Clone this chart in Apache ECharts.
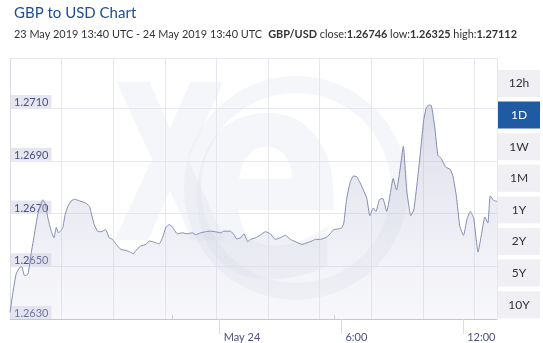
<!DOCTYPE html>
<html><head><meta charset="utf-8">
<script src="https://cdn.jsdelivr.net/npm/echarts@6/dist/echarts.min.js"></script>
<style>html,body{margin:0;padding:0;background:#fff}#c{width:543px;height:343px}</style>
</head><body><div id="c"></div>
<script>
const titleText = 'GBP to USD Chart';
const rangeText = '23 May 2019 13:40 UTC - 24 May 2019 13:40 UTC';
const pairName = 'GBP/USD';
const closeVal = '1.26746';
const lowVal = '1.26325';
const highVal = '1.27112';

// minutes since 23 May 2019 13:40 UTC
const minutesFromStart = [0,8,18,28,35,43,53,63,72,82,90,97,104,112,122,130,137,143,149,156,163,171,181,191,206,225,235,239,249,259,269,283,293,303,318,328,343,353,365,375,387,402,412,422,431,441,451,461,471,481,485,495,509,524,539,549,564,578,593,608,623,632,652,662,670,682,692,703,711,726,740,755,770,784,799,814,829,844,863,878,893,903,918,937,949,957,972,981,987,995,1005,1015,1025,1035,1045,1055,1064,1074,1082,1092,1102,1114,1123,1133,1143,1153,1163,1173,1185,1194,1207,1217,1223,1231,1239,1246,1256,1265,1275,1288,1302,1310,1320,1330,1341,1351,1361,1371,1384,1394,1404,1413,1420,1430,1440];
const rates = [1.26325,1.26395,1.26470,1.26495,1.26498,1.26464,1.26470,1.26552,1.26620,1.26696,1.26733,1.26752,1.26739,1.26683,1.26633,1.26608,1.26648,1.26627,1.26633,1.26646,1.26696,1.26727,1.26748,1.26754,1.26748,1.26739,1.26727,1.26708,1.26658,1.26633,1.26631,1.26639,1.26608,1.26602,1.26577,1.26564,1.26560,1.26555,1.26548,1.26564,1.26577,1.26583,1.26596,1.26593,1.26589,1.26585,1.26608,1.26648,1.26658,1.26648,1.26639,1.26623,1.26627,1.26623,1.26627,1.26620,1.26627,1.26631,1.26633,1.26631,1.26627,1.26633,1.26633,1.26620,1.26604,1.26608,1.26623,1.26593,1.26602,1.26608,1.26618,1.26631,1.26623,1.26602,1.26608,1.26618,1.26602,1.26593,1.26583,1.26589,1.26596,1.26602,1.26602,1.26611,1.26627,1.26639,1.26642,1.26646,1.26664,1.26752,1.26815,1.26842,1.26840,1.26817,1.26789,1.26758,1.26692,1.26721,1.26708,1.26752,1.26758,1.26708,1.26765,1.26833,1.26789,1.26865,1.26955,1.26789,1.26692,1.26714,1.26852,1.26977,1.27052,1.27103,1.27112,1.27109,1.27028,1.26921,1.26909,1.26877,1.26867,1.26840,1.26765,1.26652,1.26617,1.26677,1.26708,1.26683,1.26554,1.26620,1.26687,1.26664,1.26767,1.26750,1.26746];

const xTickMinutes = [620, 980, 1340];
const xTickLabels = ['May 24', '6:00', '12:00'];
const yMin = 1.2630, yMax = 1.2729, yStep = 0.0020;
const buttonLabels = ['12h', '1D', '1W', '1M', '1Y', '2Y', '5Y', '10Y'];
const selectedButton = '1D';

const FONT = 'Lato';
const n = Math.min(minutesFromStart.length, rates.length);
const seriesData = [];
for (let i = 0; i < n; i++) seriesData.push([minutesFromStart[i], rates[i]]);

const chart = echarts.init(document.getElementById('c'), null, {renderer: 'canvas'});

const buttons = [];
buttonLabels.forEach((lab, i) => {
  const sel = lab === selectedButton;
  buttons.push({
    type: 'group', left: 498, top: 70 + i * 31.6, z: 10,
    children: [
      {type: 'rect', shape: {x: 0, y: 0, width: 42, height: 27}, style: {fill: sel ? '#1f5ba3' : '#efeff4'}},
      {type: 'text', x: 21, y: 13.5, style: {text: lab, fill: sel ? '#ffffff' : '#333333', font: '12px ' + FONT, align: 'center', verticalAlign: 'middle'}}
    ]
  });
});

const wmColor = 'rgba(215,217,232,0.24)';
const watermark = {
  type: 'group', z: -10, silent: true,
  children: [
    {type: 'ring', shape: {cx: 296, cy: 188, r: 112, r0: 95}, style: {fill: wmColor}, z: -10},
    {type: 'text', x: 170, y: 165, scaleX: 0.62, scaleY: 1, style: {text: 'x', font: 'bold 290px "DejaVu Sans"', fill: wmColor, align: 'center', verticalAlign: 'middle'}, z: -10},
    {type: 'text', x: 266, y: 200, scaleX: 0.8, scaleY: 1, style: {text: 'e', font: 'bold 290px "DejaVu Sans"', fill: wmColor, align: 'center', verticalAlign: 'middle'}, z: -10}
  ]
};

const option = {
  backgroundColor: '#ffffff',
  animation: false,
  title: [
    {text: titleText, left: 9, top: 1, textStyle: {fontFamily: FONT, fontSize: 15, fontWeight: 'normal', color: '#1e4b96'}},
    {
      text: '{n|' + rangeText + '}  {b|' + pairName + '}{n| close:}{b|' + closeVal + '}{n| low:}{b|' + lowVal + '}{n| high:}{b|' + highVal + '}',
      left: 9, top: 24,
      textStyle: {fontWeight: 'normal', fontSize: 10.9, rich: {
        n: {fontFamily: FONT, fontSize: 10.9, fontWeight: 'normal', color: '#333333'},
        b: {fontFamily: FONT, fontSize: 10.9, fontWeight: 'bold', color: '#333333'}
      }}
    }
  ],
  grid: {left: 10, right: 46, top: 58, bottom: 21, containLabel: false},
  xAxis: [
    {
      type: 'value', min: 0, max: 1440, position: 'bottom',
      axisLine: {show: true, lineStyle: {color: '#c4c6dc', width: 1}},
      axisTick: {show: true, customValues: xTickMinutes, inside: false, length: 15, lineStyle: {color: '#dcdce6'}},
      axisLabel: {show: true, customValues: xTickMinutes, align: 'left', margin: 13, padding: [0, 0, 0, 4],
        color: '#4a4f80', fontFamily: FONT, fontSize: 11,
        formatter: v => { const k = xTickMinutes.indexOf(v); return k >= 0 ? xTickLabels[k] : ''; }},
      splitLine: {show: false}
    },
    {
      type: 'value', min: 0, max: 9.436, interval: 1, position: 'top',
      axisLine: {show: false}, axisTick: {show: false}, axisLabel: {show: false},
      splitLine: {show: true, lineStyle: {color: '#e6e6ee', width: 1}}
    },
    {
      type: 'value', min: 0, max: 1440, position: 'bottom',
      axisLine: {show: false}, axisLabel: {show: false}, splitLine: {show: false},
      axisTick: {show: true, customValues: [480, 960], inside: true, length: 4, lineStyle: {color: '#c4c6dc'}}
    }
  ],
  yAxis: {
    type: 'value', min: yMin, max: yMax, interval: yStep,
    axisLine: {show: true, lineStyle: {color: '#dcdce8'}},
    axisTick: {show: false},
    splitLine: {show: true, lineStyle: {color: '#e6e6ee', width: 1}},
    axisLabel: {
      inside: true, margin: 1, verticalAlign: 'bottom', align: 'left',
      formatter: v => v.toFixed(4),
      color: '#4a4f80', fontFamily: FONT, fontSize: 11,
      backgroundColor: '#e6e6f1', padding: [2, 3, 0, 3],
      showMinLabel: true, showMaxLabel: false
    }
  },
  series: [{
    type: 'line', xAxisIndex: 0, data: seriesData, showSymbol: false, smooth: 0.15,
    lineStyle: {color: '#858cb2', width: 1},
    areaStyle: {color: new echarts.graphic.LinearGradient(0, 0, 0, 1, [
      {offset: 0, color: 'rgba(160,164,200,0.55)'},
      {offset: 1, color: 'rgba(225,226,238,0.35)'}
    ])},
    z: 2
  }],
  graphic: [watermark].concat(buttons)
};
chart.setOption(option);
</script></body></html>
